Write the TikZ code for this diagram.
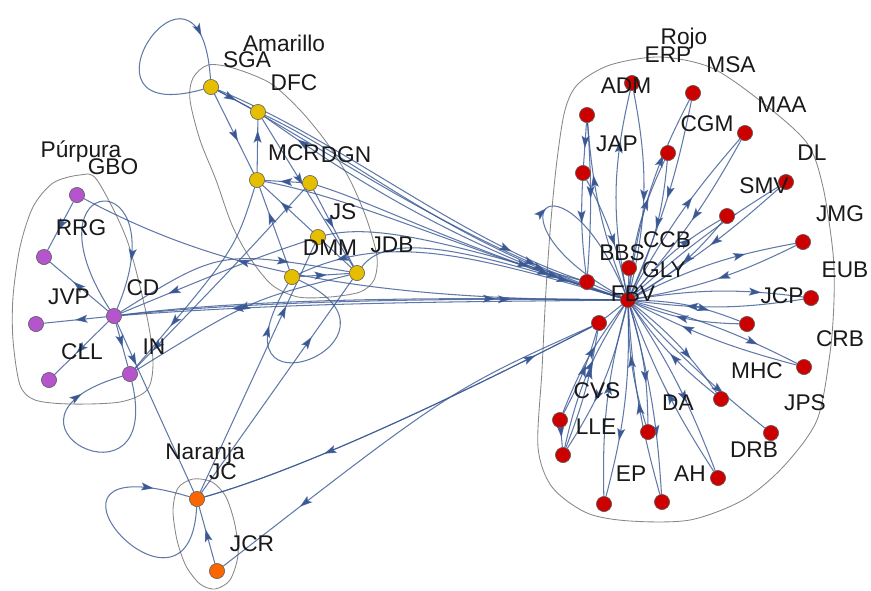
\documentclass[tikz,border=0pt]{standalone}
\usepackage{fontspec}
\setmainfont{Liberation Sans}
\usetikzlibrary{arrows.meta,decorations.markings}
\definecolor{edgec}{RGB}{58,88,148}
\definecolor{hullc}{RGB}{135,135,135}
\definecolor{yel}{RGB}{230,190,0}
\definecolor{pur}{RGB}{180,85,205}
\definecolor{ora}{RGB}{250,102,0}
\definecolor{roj}{RGB}{205,0,0}
\begin{document}
\begin{tikzpicture}[x=1pt,y=-1pt,
  ed/.style={draw=edgec,line width=1.05pt,draw opacity=0.8},
  arr/.style={postaction={decorate},decoration={markings,mark=at position #1 with {\arrow{Stealth[length=12.5pt,width=8pt,inset=2.5pt,color=edgec]}}}},
  arr/.default=0.6,
  hull/.style={draw=hullc,line width=0.85pt},
  vtx/.style={circle,inner sep=0pt,minimum size=15pt,draw=black!60,line width=0.5pt},
  yv/.style={vtx,fill=yel},
  pv/.style={vtx,fill=pur},
  ov/.style={vtx,fill=ora},
  rv/.style={vtx,fill=roj},
  lab/.style={inner sep=0pt,font=\fontsize{22.7}{24}\selectfont,text=black!90}
]
\useasboundingbox (0,0) rectangle (871,590);

% ---------- hulls ----------
\draw[hull] plot[smooth cycle] coordinates {(565,110) (578,84) (610,65) (660,57) (712,68) (763,103) (807,143) (823,187) (833,253) (834,300) (830,353) (817,420) (783,467) (743,500) (690,520) (630,521) (587,513) (552,487) (538,447) (542,370) (546,290) (551,220) (557,160)};
\draw[hull] plot[smooth cycle] coordinates {(193,78) (208,65) (233,68) (270,83) (300,110) (327,143) (350,180) (367,220) (377,257) (374,280) (360,292) (330,297) (298,297) (272,285) (250,258) (232,225) (216,180) (200,140) (190,100)};
\draw[hull] plot[smooth cycle] coordinates {(80,175) (97,180) (127,240) (147,317) (153,363) (147,390) (120,402) (70,404) (35,400) (20,385) (13,340) (13,297) (20,247) (33,207) (53,183)};
\draw[hull] plot[smooth cycle] coordinates {(193,479) (212,482) (226,497) (235,525) (238,555) (230,580) (215,589) (200,584) (186,566) (177,540) (173,510) (178,488)};

% ---------- nodes (for connector ends) ----------
\node[yv] (SGA) at (211,87) {};
\node[yv] (DFC) at (258,112) {};
\node[yv] (MCR) at (257,180) {};
\node[yv] (DGN) at (310,183) {};
\node[yv] (JS) at (318,237) {};
\node[yv] (DMM) at (292,277) {};
\node[yv] (JDB) at (357,273) {};
\node[pv] (GBO) at (77,195) {};
\node[pv] (RRG) at (44,257) {};
\node[pv] (JVP) at (36,324) {};
\node[pv] (CD) at (114,316) {};
\node[pv] (CLL) at (49,380) {};
\node[pv] (IN) at (130,374) {};
\node[ov] (JC) at (197,499) {};
\node[ov] (JCR) at (217,571) {};
\node[rv] (ERP) at (632,83) {};
\node[rv] (ADM) at (587,115) {};
\node[rv] (MSA) at (693,93) {};
\node[rv] (MAA) at (745,133) {};
\node[rv] (CGM) at (668,153) {};
\node[rv] (JAP) at (583,173) {};
\node[rv] (DL) at (786,182) {};
\node[rv] (SMV) at (727,216) {};
\node[rv] (JMG) at (803,242) {};
\node[rv] (CCB) at (629,268) {};
\node[rv] (BBS) at (587,282) {};
\node[rv] (EUB) at (811,298) {};
\node[rv] (FBV) at (599,323) {};
\node[rv] (JCP) at (747,324) {};
\node[rv] (CRB) at (804,367) {};
\node[rv] (MHC) at (721,399) {};
\node[rv] (JPS) at (771,433) {};
\node[rv] (DRB) at (718,478) {};
\node[rv] (DA) at (648,432) {};
\node[rv] (AH) at (662,502) {};
\node[rv] (EP) at (604,504) {};
\node[rv] (LLE) at (563,455) {};
\node[rv] (CVS) at (560,420) {};
\node[rv] (GLY) at (628,300) {};

% ---------- edges ----------
% Amarillo internal
\draw[ed,arr=.8] (SGA) .. controls (60,130) and (200,-80) .. (SGA);
\draw[ed,arr=.55] (SGA) -- (DFC);
\draw[ed,arr=.6] (SGA) -- (MCR);
\draw[ed,arr=.8] (MCR) -- (DFC);
\draw[ed,arr=.6] (DGN) -- (MCR);
\draw[ed,arr=.7] (DMM) -- (MCR);
\draw[ed,arr=.8] (JDB) -- (MCR);
\draw[ed,arr=.55] (DMM) -- (JDB);
\draw[ed,arr=.5] (DGN) -- (JDB);
\draw[ed,arr=.45] (DFC) -- (JDB);
\draw[ed,arr=.8] (DMM) .. controls (430,340) and (200,430) .. (DMM);
% Amarillo to hub bundle
\draw[ed,arr=.8] (SGA) .. controls (330,150) and (450,240) .. (GLY);
\draw[ed,arr=.8] (DFC) .. controls (360,160) and (450,245) .. (GLY);
\draw[ed,arr=.82] (SGA) .. controls (340,140) and (460,240) .. (BBS);
\draw[ed,arr=.8] (MCR) .. controls (360,200) and (450,245) .. (GLY);
\draw[ed,arr=.8] (DGN) .. controls (380,205) and (460,248) .. (GLY);
\draw[ed,arr=.8] (JS) .. controls (380,222) and (460,248) .. (BBS);
\draw[ed,arr=.8] (JDB) .. controls (390,230) and (470,250) .. (GLY);
\draw[ed,arr=.9] (GLY) .. controls (460,250) and (340,170) .. (DFC);
\draw[ed,arr=.88] (GLY) .. controls (470,255) and (390,232) .. (DMM);
% cross clusters
\draw[ed,arr=.7] (GLY) .. controls (330,300) and (200,260) .. (GBO);
\draw[ed,arr=.75] (CD) .. controls (250,298) and (450,297) .. (GLY);
\draw[ed,arr=.78] (CD) .. controls (260,300) and (460,298) .. (GLY);
\draw[ed,arr=.78] (GLY) .. controls (450,302) and (300,302) .. (CD);
\draw[ed,arr=.75] (JS) .. controls (250,260) .. (CD);
\draw[ed,arr=.5] (JDB) .. controls (250,300) .. (IN);
\draw[ed,arr=.75] (CD) .. controls (220,250) .. (JDB);
\draw[ed,arr=.9] (DGN) .. controls (240,260) .. (IN);
\draw[ed,arr=.75] (MCR) .. controls (235,250) .. (IN);
% Purpura internal
\draw[ed,arr=.6] (GBO) -- (RRG);
\draw[ed,arr=.6] (CD) -- (RRG);
\draw[ed,arr=.5] (CD) -- (JVP);
\draw[ed,arr=.6] (CD) -- (CLL);
\draw[ed,arr=.55] (CD) -- (IN);
\draw[ed,arr=.8] (CD) .. controls (20,170) and (180,160) .. (CD);
\draw[ed,arr=.8] (IN) .. controls (165,520) and (-30,420) .. (IN);
% Naranja
\draw[ed,arr=.25] (CD) -- (JC);
\draw[ed,arr=.6] (JCR) -- (JC);
\draw[ed,arr=.85] (JC) .. controls (190,650) and (0,440) .. (JC);
\draw[ed,arr=.73] (JC) -- (JDB);
\draw[ed,arr=.75] (JC) -- (JS);
\draw[ed,arr=.7] (FBV) .. controls (450,400) and (300,470) .. (JC);
\draw[ed,arr=.85] (JC) .. controls (300,470) and (450,400) .. (FBV);
\draw[ed,arr=.78] (FBV) .. controls (450,390) .. (JCR);
% Rojo internal
\draw[ed,arr=.5] (GLY) .. controls (480,220) and (560,140) .. (GLY);
\draw[ed,arr=.75] (GLY) to[bend left=12] (ERP);
\draw[ed,arr=.55] (ERP) to[bend left=12] (GLY);
\draw[ed,arr=.7] (GLY) to[bend left=8] (ADM);
\draw[ed,arr=.5] (ADM) to[bend left=4] (BBS);
\draw[ed,arr=.6] (ADM) -- (JAP);
\draw[ed,arr=.45] (JAP) to[bend right=5] (BBS);
\draw[ed,arr=.6] (JAP) to[bend left=8] (GLY);
\draw[ed,arr=.7] (GLY) to[bend left=10] (MSA);
\draw[ed,arr=.5] (MSA) to[bend left=6] (GLY);
\draw[ed,arr=.7] (GLY) to[bend left=10] (CGM);
\draw[ed,arr=.5] (CGM) to[bend left=10] (GLY);
\draw[ed,arr=.6] (GLY) to[bend left=6] (MAA);
\draw[ed,arr=.5] (MAA) to[bend left=6] (GLY);
\draw[ed,arr=.72] (GLY) to[bend left=5] (DL);
\draw[ed,arr=.5] (DL) to[bend left=5] (GLY);
\draw[ed,arr=.7] (GLY) to[bend left=10] (SMV);
\draw[ed,arr=.5] (SMV) to[bend left=10] (GLY);
\draw[ed,arr=.7] (GLY) to[bend left=8] (JMG);
\draw[ed,arr=.5] (JMG) to[bend left=8] (GLY);
\draw[ed] (CCB) -- (GLY);
\draw[ed] (BBS) -- (GLY);
\draw[ed] (FBV) -- (GLY);
\draw[ed,arr=.75] (GLY) to[bend left=8] (EUB);
\draw[ed,arr=.7] (EUB) to[bend left=8] (GLY);
\draw[ed,arr=.7] (GLY) to[bend left=10] (JCP);
\draw[ed,arr=.6] (JCP) to[bend left=10] (GLY);
\draw[ed,arr=.75] (GLY) to[bend left=6] (CRB);
\draw[ed,arr=.7] (CRB) to[bend left=6] (GLY);
\draw[ed,arr=.65] (GLY) to[bend left=8] (MHC);
\draw[ed,arr=.5] (MHC) to[bend left=8] (GLY);
\draw[ed,arr=.7] (GLY) to[bend right=4] (JPS);
\draw[ed,arr=.6] (GLY) to[bend left=6] (DRB);
\draw[ed,arr=.5] (DRB) to[bend left=6] (GLY);
\draw[ed,arr=.65] (GLY) to[bend left=8] (DA);
\draw[ed,arr=.6] (DA) to[bend left=8] (GLY);
\draw[ed,arr=.7] (GLY) to[bend left=6] (AH);
\draw[ed,arr=.5] (AH) to[bend left=6] (GLY);
\draw[ed,arr=.7] (GLY) to[bend left=8] (EP);
\draw[ed,arr=.6] (EP) to[bend left=8] (GLY);
\draw[ed,arr=.6] (LLE) to[bend left=10] (GLY);
\draw[ed,arr=.65] (GLY) to[bend left=10] (LLE);
\draw[ed,arr=.5] (CVS) -- (LLE);
\draw[ed,arr=.6] (CVS) to[bend left=8] (GLY);
\draw[ed,arr=.6] (CVS) to[bend right=6] (FBV);
\draw[ed,arr=.7] (LLE) to[bend right=6] (FBV);

% nodes drawn again on top of the connectors
\foreach \n/\s/\x/\y in {SGA/yv/211/87,DFC/yv/258/112,MCR/yv/257/180,DGN/yv/310/183,JS/yv/318/237,DMM/yv/292/277,JDB/yv/357/273,
  GBO/pv/77/195,RRG/pv/44/257,JVP/pv/36/324,CD/pv/114/316,CLL/pv/49/380,IN/pv/130/374,JC/ov/197/499,JCR/ov/217/571,
  ERP/rv/632/83,ADM/rv/587/115,MSA/rv/693/93,MAA/rv/745/133,CGM/rv/668/153,JAP/rv/583/173,DL/rv/786/182,SMV/rv/727/216,
  JMG/rv/803/242,CCB/rv/629/268,BBS/rv/587/282,EUB/rv/811/298,FBV/rv/599/323,JCP/rv/747/324,CRB/rv/804/367,MHC/rv/721/399,
  JPS/rv/771/433,DRB/rv/718/478,DA/rv/648/432,AH/rv/662/502,EP/rv/604/504,LLE/rv/563/455,CVS/rv/560/420,GLY/rv/628/300}
  {\node[\s] (top\n) at (\x,\y) {};}

% ---------- labels ----------
\node[lab] (lAma) at (284,43) {Amarillo};
\node[lab] (lPur) at (81,151) {Púrpura};
\node[lab] (lNar) at (205,454) {Naranja};
\node[lab] (lRoj) at (684,39) {Rojo};
\node[lab] (lSGA) at (247,60) {SGA};
\node[lab] (lDFC) at (294,83) {DFC};
\node[lab] (lMCR) at (294,153) {MCR};
\node[lab] (lDGN) at (346,155) {DGN};
\node[lab] (lJS) at (343,212) {JS};
\node[lab] (lDMM) at (330,248) {DMM};
\node[lab] (lJDB) at (392,245) {JDB};
\node[lab] (lGBO) at (113,167) {GBO};
\node[lab] (lRRG) at (81,228) {RRG};
\node[lab] (lJVP) at (69,297) {JVP};
\node[lab] (lCD) at (143,288) {CD};
\node[lab] (lCLL) at (82,352) {CLL};
\node[lab] (lIN) at (154,347) {IN};
\node[lab] (lJC) at (223,472) {JC};
\node[lab] (lJCR) at (252,544) {JCR};
\node[lab] (lERP) at (668,55) {ERP};
\node[lab] (lADM) at (626,86) {ADM};
\node[lab] (lMSA) at (731,65) {MSA};
\node[lab] (lMAA) at (782,105) {MAA};
\node[lab] (lCGM) at (707,124) {CGM};
\node[lab] (lJAP) at (617,144) {JAP};
\node[lab] (lDL) at (812,153) {DL};
\node[lab] (lSMV) at (764,186) {SMV};
\node[lab] (lJMG) at (840,214) {JMG};
\node[lab] (lCCB) at (667,240) {CCB};
\node[lab] (lBBS) at (622,253) {BBS};
\node[lab] (lGLY) at (664,270) {GLY};
\node[lab] (lEUB) at (845,270) {EUB};
\node[lab] (lFBV) at (633,294) {FBV};
\node[lab] (lJCP) at (782,296) {JCP};
\node[lab] (lCRB) at (840,339) {CRB};
\node[lab] (lMHC) at (757,371) {MHC};
\node[lab] (lCVS) at (597,391) {CVS};
\node[lab] (lDA) at (678,403) {DA};
\node[lab] (lJPS) at (805,403) {JPS};
\node[lab] (lLLE) at (596,427) {LLE};
\node[lab] (lDRB) at (754,450) {DRB};
\node[lab] (lAH) at (690,474) {AH};
\node[lab] (lEP) at (631,474) {EP};
\end{tikzpicture}
\end{document}
